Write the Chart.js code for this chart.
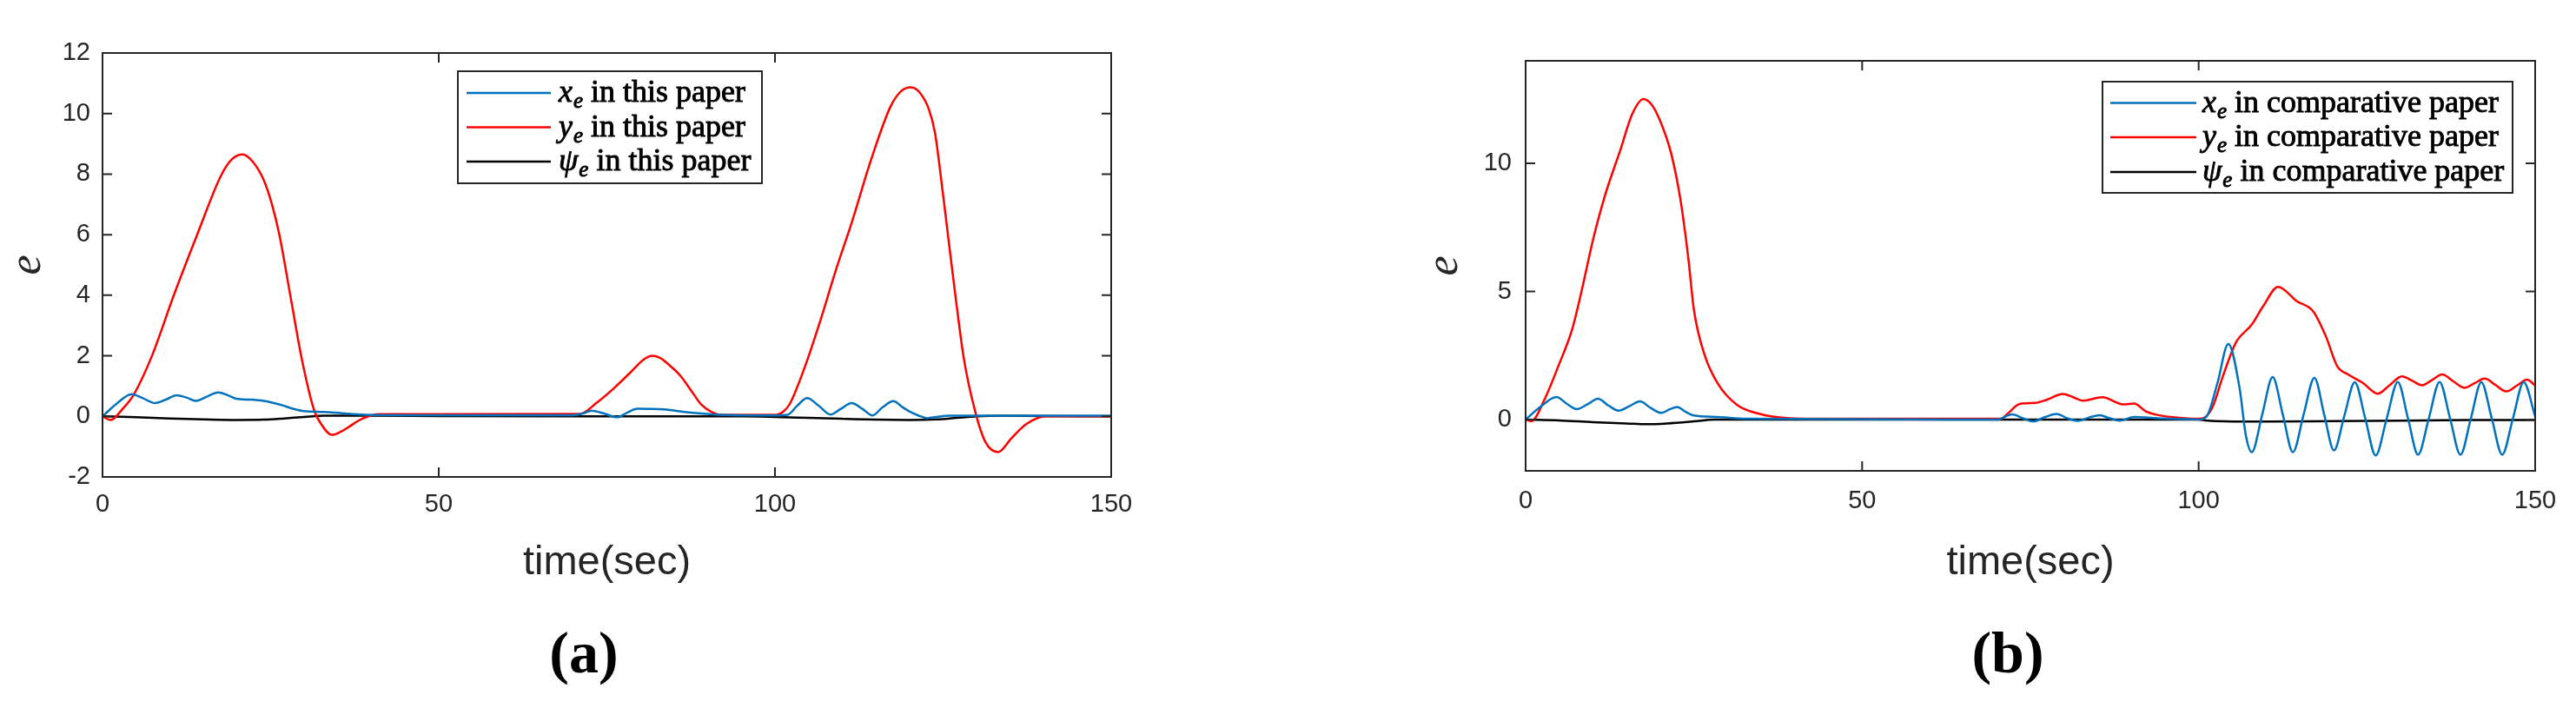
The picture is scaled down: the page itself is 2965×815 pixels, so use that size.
<!DOCTYPE html>
<html>
<head>
<meta charset="utf-8">
<script src="https://cdn.jsdelivr.net/npm/chart.js@4.4.1/dist/chart.umd.min.js"></script>
<style>
  body { margin: 0; background: #fff; width: 2965px; height: 815px; overflow: hidden; position: relative; }
  .panel { position: absolute; top: 0; height: 815px; }
  #panelA { left: 0; width: 1482px; }
  #panelB { left: 1482px; width: 1483px; }
</style>
</head>
<body>
<div class="panel" id="panelA"><canvas id="chartA" width="1482" height="815"></canvas></div>
<div class="panel" id="panelB"><canvas id="chartB" width="1483" height="815"></canvas></div>
<script>
// tick labels
const xTicks = [0, 50, 100, 150];
const yTicksA = [-2, 0, 2, 4, 6, 8, 10, 12];
const yTicksB = [0, 5, 10];

// (a) this paper
const aXeT = [0, 2.1, 4.35, 6, 7.8, 9.5, 11, 12.5, 13.9, 15.5, 17.2, 18.6, 19.9, 22, 24, 25.5, 26.7, 28.2, 29.7, 32, 34.1, 37, 39.5, 45, 70, 71.5, 72.7, 74.5, 76.5, 78, 79.5, 83.5, 87.2, 92, 100, 101.9, 103.3, 104.8, 106.5, 108.3, 109.8, 111.4, 113, 114.5, 116, 117.6, 119, 120, 121.3, 122.6, 124, 126, 150];
const aXeV = [0, 0.42, 0.73, 0.6, 0.44, 0.56, 0.70, 0.62, 0.51, 0.65, 0.79, 0.7, 0.58, 0.55, 0.51, 0.44, 0.37, 0.26, 0.18, 0.15, 0.13, 0.08, 0.05, 0.04, 0.04, 0.1, 0.19, 0.1, -0.03, 0.12, 0.25, 0.23, 0.13, 0.05, 0.03, 0.05, 0.35, 0.6, 0.35, 0.06, 0.25, 0.44, 0.25, 0.03, 0.3, 0.5, 0.3, 0.16, 0.03, -0.06, -0.02, 0.02, 0.02];

const aYeT = [0, 1.2, 3, 4.6, 7.3, 10.7, 14.2, 17.6, 19.2, 20.8, 22.3, 24, 25.2, 26.3, 28, 29.7, 31.5, 32.5, 34.1, 35.5, 36.7, 38, 39.5, 41, 71, 73.5, 76.2, 78.5, 80.5, 81.8, 83, 84.5, 85.9, 87.7, 89, 90.6, 92, 100.2, 101.2, 102.2, 104.5, 106.8, 109.1, 111.4, 114.3, 117.2, 118.8, 120.2, 121.5, 122.9, 123.8, 124.6, 125.8, 126.9, 128.1, 129.8, 131.3, 133.2, 135.1, 137.4, 140.3, 150];
const aYeV = [0, -0.12, 0.25, 0.7, 1.97, 4.06, 6.07, 7.94, 8.48, 8.65, 8.42, 7.79, 7.0, 6.0, 3.9, 1.82, 0.18, -0.25, -0.61, -0.5, -0.34, -0.15, 0.0, 0.07, 0.08, 0.45, 0.96, 1.45, 1.88, 2.0, 1.92, 1.65, 1.35, 0.8, 0.4, 0.14, 0.05, 0.05, 0.15, 0.41, 1.67, 3.2, 4.86, 6.39, 8.48, 10.24, 10.75, 10.87, 10.7, 10.13, 9.36, 8.04, 5.85, 3.87, 1.89, 0.14, -0.85, -1.18, -0.74, -0.25, 0.0, 0.0];

const aPsiT = [0, 5, 10, 15, 20, 24, 27, 30, 33, 40, 50, 70, 95, 100, 105, 110, 115, 120, 124, 127, 130, 134, 140, 150];
const aPsiV = [0, -0.03, -0.07, -0.1, -0.12, -0.11, -0.07, -0.02, 0.02, 0.02, 0.01, 0, 0, -0.02, -0.05, -0.08, -0.11, -0.12, -0.1, -0.05, 0, 0.02, 0.01, 0];

// (b) comparative paper
const bXeT = [0, 2.2, 4.6, 6.1, 7.6, 9.2, 10.75, 12.3, 13.8, 15.4, 17, 18.6, 20.2, 21.4, 22.5, 23.8, 25, 28.5, 33, 70, 72.3, 73.9, 75.4, 77.2, 78.9, 80.5, 82, 83.7, 85.3, 86.8, 88.3, 90.4, 94, 100, 101.2, 102.8, 104.4, 106.1, 107, 107.9, 109.45, 111, 112.5, 114, 115.6, 117.2, 118.65, 120.1, 121.65, 123.2, 124.75, 126.3, 127.95, 129.6, 131.1, 132.6, 134.2, 135.8, 137.35, 138.9, 140.45, 142, 143.55, 145.1, 146.7, 148.3, 150];
const bXeV = [0, 0.5, 0.88, 0.62, 0.41, 0.6, 0.81, 0.55, 0.35, 0.52, 0.71, 0.45, 0.26, 0.4, 0.49, 0.3, 0.16, 0.1, 0.03, 0, 0.2, 0.05, -0.07, 0.1, 0.22, 0.05, -0.05, 0.08, 0.17, 0.05, -0.04, 0.1, 0.05, 0, 0.13, 1.43, 2.95, 1.2, -0.6, -1.27, 0.2, 1.66, 0.2, -1.27, 0.2, 1.63, 0.2, -1.2, 0.15, 1.46, 0.05, -1.4, 0.05, 1.47, 0.05, -1.37, 0.05, 1.47, 0.05, -1.37, 0.05, 1.46, 0.05, -1.37, 0.05, 1.46, 0.13];

const bYeT = [0, 0.84, 2.8, 4.85, 6.9, 8.3, 10, 11.8, 14.1, 15.8, 17.5, 18.7, 19.9, 21.6, 23, 24.2, 25, 26.5, 28.5, 31.4, 34.8, 38.9, 45, 70.6, 71.7, 73.4, 75.7, 77.5, 79.8, 81.3, 82.8, 85.7, 88.8, 90.4, 92.1, 93.7, 97.6, 100.3, 102, 103.6, 105.5, 107.9, 109.6, 111.8, 114.6, 117, 118.9, 120.6, 122.2, 124.4, 126.6, 128.4, 130.2, 131.7, 133.2, 134.7, 136.2, 137.8, 139.5, 141, 142.5, 144.1, 145.7, 147.3, 148.8, 150];
const bYeV = [0, -0.06, 0.78, 2.08, 3.51, 5.0, 7.0, 8.75, 10.54, 11.9, 12.51, 12.3, 11.71, 10.41, 8.59, 6.24, 4.29, 2.6, 1.43, 0.58, 0.22, 0.06, 0.03, 0.03, 0.25, 0.61, 0.65, 0.78, 1.0, 0.88, 0.74, 0.87, 0.59, 0.63, 0.33, 0.19, 0.06, 0.03, 0.45, 1.69, 2.99, 3.71, 4.43, 5.18, 4.62, 4.23, 3.25, 2.08, 1.76, 1.43, 1.01, 1.35, 1.69, 1.52, 1.34, 1.55, 1.76, 1.5, 1.24, 1.42, 1.6, 1.35, 1.1, 1.33, 1.56, 1.33];

const bPsiT = [0, 5, 10, 15, 18, 21, 25, 28, 40, 100, 101, 104, 110, 120, 130, 140, 150];
const bPsiV = [0, -0.03, -0.1, -0.15, -0.18, -0.15, -0.07, 0, 0, 0, -0.03, -0.07, -0.08, -0.06, -0.04, -0.02, -0.02];

const BLUE = '#0072BD', RED = '#FF0000', BLACK = '#000000', AXIS = '#262626';
const H = 815;

const pts = (t, v) => t.map((x, i) => ({ x: x, y: v[i] }));

// text with a hairline stroke, so it reads as heavy as the LaTeX legend
function heavyText(ctx, str, x, y) {
  ctx.fillText(str, x, y);
  ctx.strokeText(str, x, y);
}

// frame, inward ticks, legend and labels
function decorPlugin(o) {
  return {
    id: 'decor',
    afterDraw(chart) {
      const ctx = chart.ctx, a = chart.chartArea;
      const xs = chart.scales.x, ys = chart.scales.y;
      ctx.save();
      ctx.strokeStyle = AXIS;
      ctx.lineWidth = 2;
      ctx.strokeRect(a.left, a.top, a.right - a.left, a.bottom - a.top);
      ctx.beginPath();
      xTicks.forEach(v => {
        const px = xs.getPixelForValue(v);
        ctx.moveTo(px, a.bottom); ctx.lineTo(px, a.bottom - 11);
        ctx.moveTo(px, a.top); ctx.lineTo(px, a.top + 11);
      });
      o.yTicks.forEach(v => {
        const py = ys.getPixelForValue(v);
        ctx.moveTo(a.left, py); ctx.lineTo(a.left + 11, py);
        ctx.moveTo(a.right, py); ctx.lineTo(a.right - 11, py);
      });
      ctx.stroke();

      // legend
      const lg = o.legend;
      ctx.fillStyle = '#fff';
      ctx.fillRect(lg.x, lg.y, lg.w, lg.h);
      ctx.strokeStyle = AXIS;
      ctx.lineWidth = 2;
      ctx.strokeRect(lg.x, lg.y, lg.w, lg.h);
      o.series.forEach((s, i) => {
        const cy = lg.rows[i];
        ctx.strokeStyle = s.color;
        ctx.lineWidth = 2.5;
        ctx.beginPath(); ctx.moveTo(lg.l0, cy); ctx.lineTo(lg.l1, cy); ctx.stroke();
        ctx.fillStyle = '#000';
        ctx.strokeStyle = '#000';
        ctx.lineWidth = 0.9;
        ctx.textAlign = 'left';
        ctx.textBaseline = 'alphabetic';
        let x = lg.tx;
        const base = cy + 10;
        ctx.font = 'italic 36px "Liberation Serif"';
        heavyText(ctx, s.sym, x, base);
        x += ctx.measureText(s.sym).width + 1;
        ctx.font = 'italic 25px "Liberation Serif"';
        heavyText(ctx, 'e', x, base + 7);
        x += ctx.measureText('e').width;
        ctx.font = '36px "Liberation Serif"';
        heavyText(ctx, ' ' + s.text, x, base);
      });

      // axis labels
      ctx.fillStyle = AXIS;
      ctx.textAlign = 'center';
      ctx.textBaseline = 'middle';
      ctx.font = '47px "Liberation Sans"';
      ctx.fillText('time(sec)', (a.left + a.right) / 2, 648);
      ctx.save();
      ctx.translate(o.yLabelX, (a.top + a.bottom) / 2);
      ctx.rotate(-Math.PI / 2);
      ctx.font = 'italic 52px "Liberation Serif"';
      ctx.fillText('e', 0, -4);
      ctx.restore();
      ctx.fillStyle = '#000';
      ctx.font = 'bold 68px "Liberation Serif"';
      ctx.fillText(o.tag, o.tagX, 756);
      ctx.restore();
    }
  };
}

function buildChart(id, o) {
  const W = document.getElementById(id).width;
  const tickFont = { family: '"Liberation Sans"', size: 29 };
  return new Chart(document.getElementById(id), {
    type: 'line',
    data: {
      datasets: o.series.map(s => ({
        label: s.sym + 'e ' + s.text,
        data: pts(s.t, s.v),
        borderColor: s.color,
        borderWidth: 2.5,
        pointRadius: 0,
        fill: false,
        cubicInterpolationMode: 'monotone'
      }))
    },
    options: {
      responsive: false,
      animation: false,
      events: [],
      layout: { padding: { left: 0, top: o.area.top, right: W - o.area.right, bottom: 0 } },
      plugins: { legend: { display: false }, tooltip: { enabled: false } },
      scales: {
        x: {
          type: 'linear', min: 0, max: 150,
          grid: { display: false, drawTicks: false },
          border: { display: false },
          afterBuildTicks: s => { s.ticks = xTicks.map(v => ({ value: v })); },
          afterFit: s => { s.height = H - o.area.bottom; },
          ticks: { font: tickFont, color: AXIS, padding: o.xPad, maxRotation: 0, autoSkip: false }
        },
        y: {
          type: 'linear', min: o.yMin, max: o.yMax,
          grid: { display: false, drawTicks: false },
          border: { display: false },
          afterBuildTicks: s => { s.ticks = o.yTicks.map(v => ({ value: v })); },
          afterFit: s => { s.width = o.area.left; },
          ticks: { font: tickFont, color: AXIS, padding: o.yPad, autoSkip: false }
        }
      }
    },
    plugins: [decorPlugin(o)]
  });
}

buildChart('chartA', {
  area: { left: 118, top: 61, right: 1279, bottom: 549 },
  yMin: -2, yMax: 12, yTicks: yTicksA, xPad: 15, yPad: 14,
  yLabelX: 36, tag: '(a)', tagX: 672,
  legend: { x: 527, y: 82, w: 350, h: 129, l0: 537, l1: 634, tx: 643, rows: [107, 146.5, 186] },
  series: [
    { sym: 'x', text: 'in this paper', color: BLUE, t: aXeT, v: aXeV },
    { sym: 'y', text: 'in this paper', color: RED, t: aYeT, v: aYeV },
    { sym: 'ψ', text: 'in this paper', color: BLACK, t: aPsiT, v: aPsiV }
  ]
});

buildChart('chartB', {
  area: { left: 274, top: 70, right: 1436, bottom: 542 },
  yMin: -2, yMax: 14, yTicks: yTicksB, xPad: 18, yPad: 16,
  yLabelX: 185, tag: '(b)', tagX: 829,
  legend: { x: 938, y: 94, w: 472, h: 128, l0: 947, l1: 1046, tx: 1053, rows: [118.6, 158, 198] },
  series: [
    { sym: 'x', text: 'in comparative paper', color: BLUE, t: bXeT, v: bXeV },
    { sym: 'y', text: 'in comparative paper', color: RED, t: bYeT, v: bYeV },
    { sym: 'ψ', text: 'in comparative paper', color: BLACK, t: bPsiT, v: bPsiV }
  ]
});
</script>
</body>
</html>
